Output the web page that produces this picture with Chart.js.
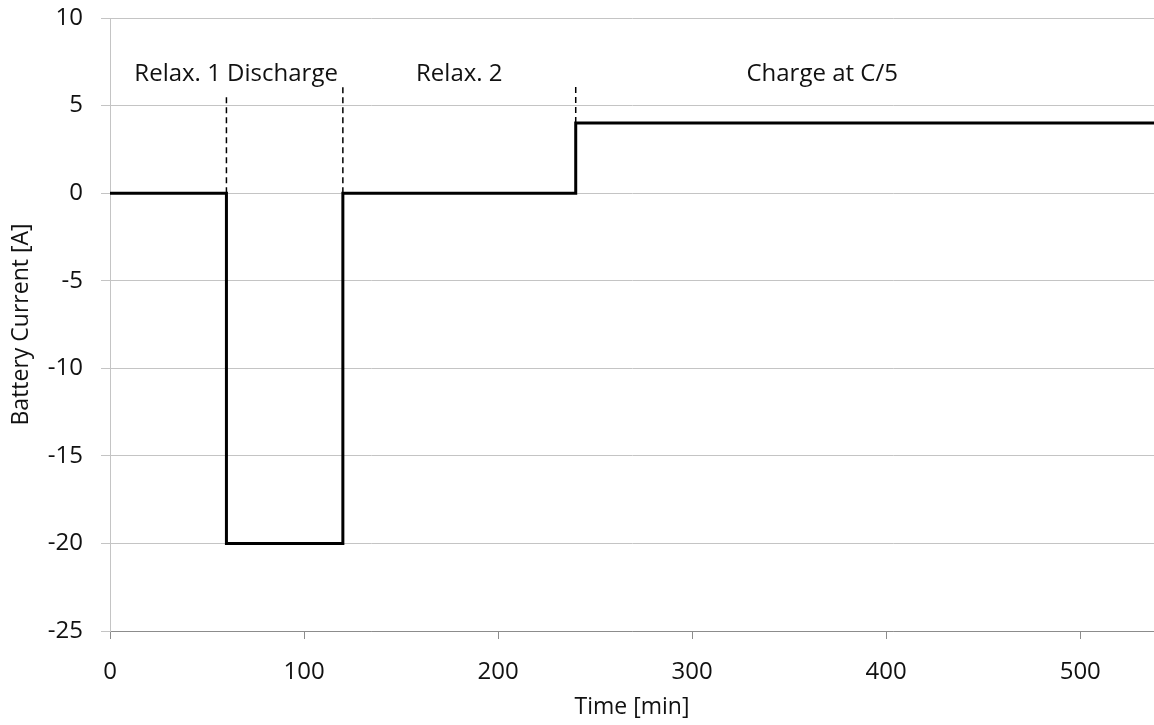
<!DOCTYPE html>
<html>
<head>
<meta charset="utf-8">
<script src="https://cdn.jsdelivr.net/npm/chart.js@4/dist/chart.umd.min.js"></script>
<style>
  html, body { margin: 0; padding: 0; background: #fff; }
  #wrap { width: 1154px; height: 725px; }
</style>
</head>
<body>
<div id="wrap"><canvas id="grafico" width="1154" height="725"></canvas></div>
<script>
// datos
const tiempos = [0, 60, 120, 240, 538];
const corriente = [0, -20, 0, 4, 4];

// lineas punteadas que separan las fases
const cortesX = [60, 120, 240];
const cortesDesde = [0, 0, 4];
const cortesHasta = [5.5, 6.2, 6.1];

// textos de las fases
const fases = ["Relax. 1 Discharge", "Relax. 2", "Charge at C/5"];
const fasesX = [65, 180, 367];
const fasesY = [6.8, 6.8, 6.8];

const ticksX = [0, 100, 200, 300, 400, 500];
const ticksY = [10, 5, 0, -5, -10, -15, -20, -25];

const fuente = "'Open Sans', 'DejaVu Sans', sans-serif";

function generarCorte(i) {
    return {
        data: [
            { x: cortesX[i], y: cortesDesde[i] },
            { x: cortesX[i], y: cortesHasta[i] }
        ],
        borderColor: "#000",
        borderWidth: 1.5,
        borderDash: [6, 4],
        pointRadius: 0,
        fill: false
    };
}

const textosFases = {
    id: "textosFases",
    afterDatasetsDraw(chart) {
        const ctx = chart.ctx;
        const sx = chart.scales.x;
        const sy = chart.scales.y;
        ctx.save();
        ctx.fillStyle = "#111";
        ctx.font = "24px " + fuente;
        ctx.textAlign = "center";
        ctx.textBaseline = "middle";
        fases.forEach((t, i) => {
            ctx.fillText(t, sx.getPixelForValue(fasesX[i]), sy.getPixelForValue(fasesY[i]));
        });
        ctx.restore();
    }
};

const ctx = document.getElementById("grafico").getContext("2d");
new Chart(ctx, {
    type: "line",
    data: {
        datasets: [
            {
                data: tiempos.map((t, i) => ({ x: t, y: corriente[i] })),
                stepped: "before",
                borderColor: "#000",
                borderWidth: 3,
                pointRadius: 0,
                fill: false
            },
            generarCorte(0),
            generarCorte(1),
            generarCorte(2)
        ]
    },
    options: {
        responsive: false,
        animation: false,
        layout: { padding: { top: 18, right: 0, left: 0, bottom: 0 } },
        plugins: { legend: { display: false }, tooltip: { enabled: false } },
        scales: {
            x: {
                type: "linear",
                min: 0,
                max: 538,
                afterBuildTicks: (s) => { s.ticks = ticksX.map(v => ({ value: v })); },
                afterFit: (s) => { s.height = 94; s.paddingLeft = 0; s.paddingRight = 0; },
                ticks: { color: "#111", font: { family: fuente, size: 24 }, padding: 19, maxRotation: 0 },
                grid: { drawOnChartArea: false, drawTicks: true, tickLength: 8, color: "#8c8c8c" },
                border: { color: "#8c8c8c", width: 1 },
                title: { display: true, text: "Time [min]", color: "#111", font: { family: fuente, size: 23 }, padding: { top: 4, bottom: 4 } }
            },
            y: {
                min: -25,
                max: 10,
                afterBuildTicks: (s) => { s.ticks = ticksY.map(v => ({ value: v })); },
                afterFit: (s) => { s.width = 110; s.paddingTop = 0; s.paddingBottom = 0; },
                ticks: { color: "#111", font: { family: fuente, size: 24 }, padding: 18 },
                grid: { drawTicks: true, tickLength: 9, color: "#c4c4c4" },
                border: { color: "#c4c4c4", width: 1 },
                title: { display: true, text: "Battery Current [A]", color: "#111", font: { family: fuente, size: 23 }, padding: { top: 8, bottom: 4 } }
            }
        }
    },
    plugins: [textosFases]
});
</script>
</body>
</html>
